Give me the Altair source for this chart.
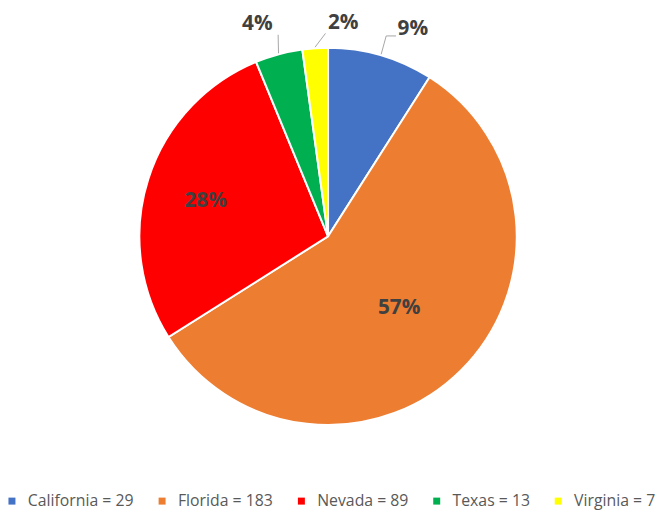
import altair as alt
import pandas as pd

states = ["California", "Florida", "Nevada", "Texas", "Virginia"]
counts = [29, 183, 89, 13, 7]
colors = ["#4472C4", "#ED7D31", "#FF0000", "#00B050", "#FFFF00"]

df = pd.DataFrame({"state": states, "count": counts, "idx": list(range(len(states)))})
df["legend"] = [f"{s} = {c}" for s, c in zip(states, counts)]
legend_labels = list(df["legend"])

W, H = 640, 456
CX, CY, R = W / 2, H / 2, 191
FONT = "Open Sans"

base = (
    alt.Chart(df)
    .transform_joinaggregate(total="sum(count)")
    .transform_window(cum="sum(count)", sort=[alt.SortField("idx")], frame=[None, 0])
    .transform_calculate(
        mid="2*PI*(datum.cum - datum.count/2)/datum.total",
        label="format(datum.count/datum.total, '.0%')",
    )
)

arc = base.mark_arc(outerRadius=R, stroke="white", strokeWidth=2).encode(
    theta=alt.Theta("count:Q", stack=True),
    color=alt.Color(
        "legend:N",
        scale=alt.Scale(domain=legend_labels, range=colors),
        sort=legend_labels,
        legend=alt.Legend(
            title=None,
            orient="none",
            legendX=-8,
            legendY=488,
            padding=0,
            direction="horizontal",
            columns=5,
            symbolType="square",
            symbolSize=50,
            symbolStrokeWidth=0,
            labelFont=FONT,
            labelFontSize=16,
            labelColor="#595959",
            labelOffset=8,
            columnPadding=20,
            labelLimit=0,
        ),
    ),
    order=alt.Order("idx:Q"),
)


def label_layer(state, r, dx=0, dy=0):
    return (
        base.transform_filter(alt.datum.state == state)
        .transform_calculate(
            lx=f"{CX} + {r}*sin(datum.mid)",
            ly=f"{CY} - {r}*cos(datum.mid)",
        )
        .mark_text(
            font=FONT, fontSize=21, fontWeight="bold", color="#404040",
            align="center", baseline="middle", dx=dx, dy=dy,
        )
        .encode(x=alt.X("lx:Q", scale=None), y=alt.Y("ly:Q", scale=None), text="label:N")
    )


def leader(state, r, dx, dy, ex, ey, elbow=None):
    b = base.transform_filter(alt.datum.state == state).transform_calculate(
        sx=f"{CX} + {R + 1}*sin(datum.mid)",
        sy=f"{CY} - {R + 1}*cos(datum.mid)",
        ex=f"{CX} + {r}*sin(datum.mid) + {dx + ex}",
        ey=f"{CY} - {r}*cos(datum.mid) + {dy + ey}",
    )
    layers = [
        b.mark_rule(color="#A6A6A6", strokeWidth=1).encode(
            x=alt.X("sx:Q", scale=None), y=alt.Y("sy:Q", scale=None),
            x2="ex:Q", y2="ey:Q",
        )
    ]
    if elbow is not None:
        layers.append(
            b.transform_calculate(fx=f"datum.ex + {elbow}")
            .mark_rule(color="#A6A6A6", strokeWidth=1)
            .encode(x=alt.X("ex:Q", scale=None), y=alt.Y("ey:Q", scale=None), x2="fx:Q")
        )
    return layers


outside = {
    "California": (228, 22, 9),
    "Texas": (228, -12, 5),
    "Virginia": (228, 31, 12),
}

labels = [label_layer(s, *p) for s, p in outside.items()] + [
    label_layer("Nevada", 129, -1, 3),
    label_layer("Florida", 102),
]

lines = (
    leader("California", *outside["California"], -27, 7, elbow=10)
    + leader("Texas", *outside["Texas"], 21, 11)
    + leader("Virginia", *outside["Virginia"], -18, 10)
)

chart = (
    alt.layer(arc, *lines, *labels)
    .properties(
        width=W,
        height=H,
        padding={"left": 4, "top": 0, "right": 14, "bottom": 60},
        autosize=alt.AutoSizeParams(type="none"),
    )
    .configure_view(stroke=None)
)

chart.save("out.html", embed_options={"renderer": "svg", "actions": False})
